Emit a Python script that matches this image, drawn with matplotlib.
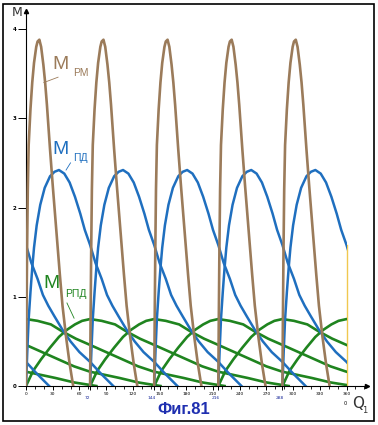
import matplotlib
matplotlib.use('Agg')
import matplotlib.pyplot as plt
from matplotlib.patches import Rectangle
from matplotlib.ticker import MultipleLocator

# start angles of the working cycles (deg), 5 per turn plus earlier tails
cycle_start = [-216, -144, -72, 0, 72, 144, 216, 288]

# M_PM over one cycle: angle from cycle start (deg), value
rm_deg = [0, 0.5, 1.2, 2, 3, 5, 7, 9, 11.5, 13, 15, 17, 19.5, 21.5, 23.5, 27, 30, 34, 38, 41, 45, 49, 53]
rm_val = [0, 0.7, 1.5, 2.2, 2.7, 3.1, 3.4, 3.62, 3.8, 3.86, 3.88, 3.8, 3.6, 3.4, 3.15, 2.65, 2.25, 1.75, 1.25, 0.9, 0.55, 0.25, 0]

# M_PD
pd_deg = [0, 1.5, 3, 5, 7, 9, 12, 16, 21, 27, 32, 37, 43, 49, 55, 61, 66, 72, 78, 85, 91, 97, 104, 113, 122, 132, 144, 156, 170]
pd_val = [0, 0.4, 0.75, 1.05, 1.32, 1.55, 1.8, 2.03, 2.22, 2.35, 2.4, 2.42, 2.38, 2.28, 2.12, 1.93, 1.75, 1.58, 1.38, 1.2, 1.02, 0.9, 0.78, 0.63, 0.5, 0.38, 0.27, 0.14, 0]

# M_RPD
rpd_deg = [0, 8, 17, 27, 37, 46, 55, 63, 72, 85, 100, 113, 128, 144, 162, 180, 198, 216, 249, 270, 295]
rpd_val = [0, 0.17, 0.3, 0.43, 0.55, 0.63, 0.69, 0.73, 0.75, 0.73, 0.69, 0.61, 0.53, 0.46, 0.38, 0.3, 0.22, 0.16, 0.09, 0.04, 0]

x_ticks = [0, 30, 60, 90, 120, 150, 180, 210, 240, 270, 300, 330, 360]
x_cycle_ticks = [72, 144, 216, 288]
y_ticks = [0, 1, 2, 3, 4]

c_rm = '#9b7b5a'
c_pd = '#1f6fbf'
c_rpd = '#1f841f'

fig = plt.figure(figsize=(3.78, 4.25), dpi=100)
ax = fig.add_axes([26/378, 39/425, 341/378, 4.2*89.25/425])
ax.set_xlim(0, 383)
ax.set_ylim(0, 4.2)

clip = Rectangle((0, 0), 360, 4.2, transform=ax.transData)

for s in cycle_start:
    l, = ax.plot([d + s for d in rpd_deg], rpd_val, color=c_rpd, lw=1.9, zorder=2)
    l.set_clip_path(clip)
for s in cycle_start:
    l, = ax.plot([d + s for d in pd_deg], pd_val, color=c_pd, lw=1.8, zorder=3)
    l.set_clip_path(clip)
for s in cycle_start:
    l, = ax.plot([d + s for d in rm_deg], rm_val, color=c_rm, lw=1.9, zorder=4)
    l.set_clip_path(clip)

# closing line at 360 deg
ax.plot([360, 360], [0, pd_val[pd_deg.index(72)]], color='#f0c850', lw=1, zorder=1)

# axes with arrows
for side in ['top', 'right']:
    ax.spines[side].set_visible(False)
ax.spines['left'].set_linewidth(0.8)
ax.spines['bottom'].set_linewidth(0.8)
ax.plot(1, 0, '>', color='black', ms=3, transform=ax.transAxes, clip_on=False)
ax.plot(0, 1, '^', color='black', ms=3, transform=ax.transAxes, clip_on=False)

ax.set_xticks(x_ticks + x_cycle_ticks)
ax.set_xticklabels([str(t) for t in x_ticks] + [''] * len(x_cycle_ticks), fontsize=3.2)
ax.xaxis.set_minor_locator(MultipleLocator(10))
ax.tick_params(axis='x', which='major', length=3, width=0.7, pad=1.5)
ax.tick_params(axis='x', which='minor', length=2, width=0.6)
for t in x_cycle_ticks:
    ax.text(t - 3, -0.028, str(t), fontsize=3.2, color='#1a2a9a', ha='center', va='top',
            transform=ax.get_xaxis_transform())
ax.set_yticks(y_ticks)
ax.set_yticklabels([str(t) for t in y_ticks], fontsize=4, fontweight='bold')
ax.tick_params(axis='y', length=6, width=0.7, pad=1)
ax.text(359, -0.17, '0', fontsize=3.5, ha='center', va='top')

ax.text(-4, 4.18, 'M', fontsize=9, ha='right', va='center', color='#333333', clip_on=False)
ax.text(366, -0.2, 'Q', fontsize=11, ha='left', va='center', color='#333333', clip_on=False)
ax.text(378, -0.28, '1', fontsize=6, ha='left', va='center', color='#333333', clip_on=False)

# curve labels
font = 'Liberation Sans'
ax.text(30, 3.55, 'M', fontsize=14, color=c_rm, family=font)
ax.text(53, 3.47, 'РМ', fontsize=7.5, color=c_rm, family=font)
ax.plot([20, 36], [3.4, 3.46], color=c_rm, lw=0.6)

ax.text(30, 2.6, 'M', fontsize=14, color=c_pd, family=font)
ax.text(53, 2.52, 'ПД', fontsize=7.5, color=c_pd, family=font)
ax.plot([45, 50], [2.42, 2.5], color=c_pd, lw=0.6)

ax.text(19, 1.1, 'M', fontsize=14, color=c_rpd, family=font)
ax.text(44, 1.0, 'РПД', fontsize=7.5, color=c_rpd, family=font)
ax.plot([46, 54], [0.93, 0.76], color=c_rpd, lw=0.6)

fig.text(184/378, 1 - 409/425, 'Фиг.81', fontsize=12, fontweight='bold', color='#1f2fb0',
         family=font, ha='center', va='center')

fig.patches.append(Rectangle((3/378, 4/425), 371/378, 417/425, transform=fig.transFigure,
                             fill=False, edgecolor='black', lw=1.2))

fig.savefig('out.png', dpi=100)
